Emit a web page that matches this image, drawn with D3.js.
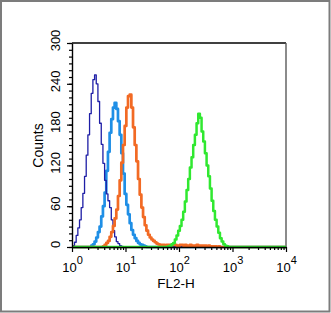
<!DOCTYPE html>
<html>
<head>
<meta charset="utf-8">
<script src="https://cdn.jsdelivr.net/npm/d3@7"></script>
<style>
  body { margin: 0; background: #fff; }
  svg { display: block; font-family: "Liberation Sans", Arial, sans-serif; }
</style>
</head>
<body>
<div id="chart"></div>
<script>
// histogram channels: 32 bins per decade over 10^0..10^4
const binsPerDecade = 32;
const decades = 4;

// counts per bin, each series starts at its own bin index
const darkBlueStart = 0;
const darkBlue = [1, 2, 7, 17, 28, 40, 58, 79, 104, 135, 165, 196, 226, 246, 253, 240, 214, 182, 151, 123,
  98, 78, 68, 58, 40, 24, 15, 8, 5, 2, 1, 0];

const lightBlueStart = 11;
const lightBlue = [0, 2, 4, 8, 14, 22, 30, 45, 60, 80, 112, 140, 168, 188, 205, 212, 203, 185, 165, 138,
  108, 78, 62, 48, 35, 25, 18, 13, 9, 6, 4, 3, 2, 1, 0];

const orangeStart = 18;
const orange = [0, 1, 3, 6, 9, 15, 22, 31, 42, 55, 75, 98, 124, 150, 178, 205, 222, 224, 205, 176,
  150, 126, 100, 77, 58, 44, 32, 24, 18, 14, 11, 9, 7, 5, 4,
  3, 3, 3, 2, 3, 3, 2, 3, 3, 3, 2, 2, 3, 3, 2, 3, 2, 2, 3, 2, 2, 2, 3, 2, 2, 2, 2, 2, 1, 2, 1, 1, 1, 1, 0, 1, 0];

const greenStart = 57;
const green = [0, 1, 2, 4, 6, 11, 17, 24, 31, 40, 52, 67, 84, 100, 117, 132, 150, 165, 182, 196,
  190, 170, 155, 138, 120, 104, 86, 68, 53, 40, 30, 21, 13, 8, 4, 2, 1, 0];

const yMajorTicks = [0, 60, 120, 180, 240, 300];
const xMajorTicks = [1, 10, 100, 1000, 10000];
const xExponents = ["0", "1", "2", "3", "4"];

const width = 331, height = 313;
const margin = {left: 72, right: 45, top: 43, bottom: 66};

const svg = d3.select("#chart").append("svg")
    .attr("width", width)
    .attr("height", height);

// outer grey frame
svg.append("rect")
    .attr("x", 1).attr("y", 1)
    .attr("width", width - 2.5).attr("height", height - 2.5)
    .attr("fill", "none")
    .attr("stroke", "#7c7c7c")
    .attr("stroke-width", 2);

const x = d3.scaleLog()
    .domain([1, 10000])
    .range([margin.left, width - margin.right]);

const y = d3.scaleLinear()
    .domain([0, 300])
    .range([height - margin.bottom, margin.top]);

function expand(start, arr) {
  const n = binsPerDecade * decades;
  const out = [];
  for (let i = 0; i <= n; i++) {
    const j = i - start;
    out.push({ch: Math.pow(10, i / binsPerDecade), v: (j >= 0 && j < arr.length) ? arr[j] : 0});
  }
  return out;
}

const series = [
  {data: expand(lightBlueStart, lightBlue), color: "#1f8fe6", w: 2.7},
  {data: expand(darkBlueStart, darkBlue), color: "#1e1ea6", w: 1.3},
  {data: expand(orangeStart, orange), color: "#f26a24", w: 2.7},
  {data: expand(greenStart, green), color: "#30e830", w: 2.5}
];

// frame top and right
svg.append("line")
    .attr("x1", x(1)).attr("x2", x(10000))
    .attr("y1", y(300)).attr("y2", y(300))
    .attr("stroke", "#000").attr("stroke-width", 1.4);
svg.append("line")
    .attr("x1", x(10000)).attr("x2", x(10000))
    .attr("y1", y(300)).attr("y2", y(0))
    .attr("stroke", "#5a5a5a").attr("stroke-width", 1.4);

const line = d3.line()
    .x(d => x(d.ch))
    .y(d => y(d.v))
    .curve(d3.curveStep);

svg.append("g").selectAll("path")
    .data(series)
    .join("path")
    .attr("d", d => line(d.data))
    .attr("fill", "none")
    .attr("stroke", d => d.color)
    .attr("stroke-width", d => d.w)
    .attr("stroke-linejoin", "round");

// y axis: minor then major
svg.append("g")
    .attr("transform", `translate(${margin.left},0)`)
    .call(d3.axisLeft(y).tickValues(d3.range(0, 301, 10)).tickSize(3).tickFormat(""))
    .call(g => g.select(".domain").remove())
    .selectAll("line").attr("stroke-width", 1.2);

const yAxis = svg.append("g")
    .attr("transform", `translate(${margin.left},0)`)
    .call(d3.axisLeft(y).tickValues(yMajorTicks).tickSize(5).tickSizeOuter(0));
yAxis.select(".domain").attr("stroke-width", 1.4);
yAxis.selectAll(".tick line").attr("stroke-width", 1.2);
yAxis.selectAll(".tick text")
    .attr("transform", "rotate(-90)")
    .attr("x", 3)
    .attr("y", -12.5)
    .attr("dy", 0)
    .attr("text-anchor", "middle")
    .attr("font-size", 13)
    .attr("fill", "#000");

// x axis: minor log ticks then decades
const xMinor = [];
for (let p = 0; p < decades; p++) {
  for (let k = 2; k <= 9; k++) xMinor.push(k * Math.pow(10, p));
}
svg.append("g")
    .attr("transform", `translate(0,${y(0)})`)
    .call(d3.axisBottom(x).tickValues(xMinor).tickSize(3).tickFormat(""))
    .call(g => g.select(".domain").remove())
    .selectAll("line").attr("stroke-width", 1.2);

const xAxis = svg.append("g")
    .attr("transform", `translate(0,${y(0)})`)
    .call(d3.axisBottom(x).tickValues(xMajorTicks).tickSize(5).tickSizeOuter(0).tickFormat(""));
xAxis.select(".domain").attr("stroke-width", 1.4);
xAxis.selectAll(".tick line").attr("stroke-width", 1.2);
xAxis.selectAll(".tick text").remove();
xAxis.selectAll(".tick").each(function (d, i) {
  const t = d3.select(this).append("text")
      .attr("y", 25)
      .attr("text-anchor", "middle")
      .attr("font-size", 13)
      .attr("fill", "#000");
  t.append("tspan").text("10");
  t.append("tspan").attr("dy", -8).attr("font-size", 11).text(xExponents[i]);
});

// axis titles
svg.append("text")
    .attr("x", 176)
    .attr("y", 287.5)
    .attr("text-anchor", "middle")
    .attr("font-size", 13.5)
    .text("FL2-H");

svg.append("text")
    .attr("transform", "translate(43,145.5) rotate(-90)")
    .attr("text-anchor", "middle")
    .attr("font-size", 14)
    .text("Counts");
</script>
</body>
</html>
